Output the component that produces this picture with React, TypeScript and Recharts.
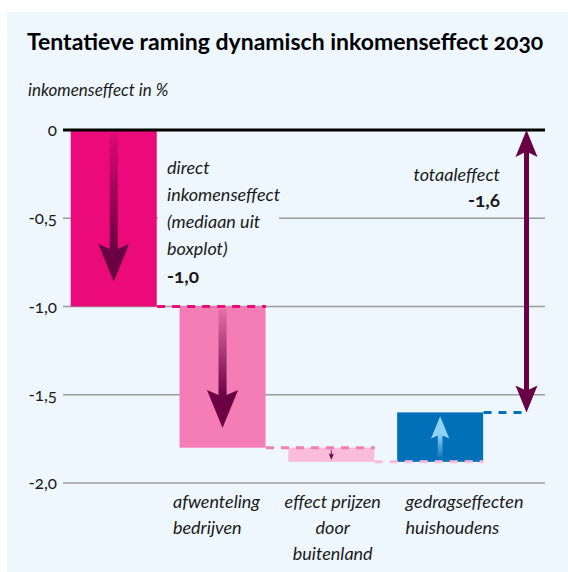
import React from "react";
import { BarChart, Bar, XAxis, YAxis, CartesianGrid, ReferenceLine } from "recharts";

// Waterfall: each step starts where the previous one ended
const CATEGORIES = [
    "direct inkomenseffect",
    "afwenteling bedrijven",
    "effect prijzen door buitenland",
    "gedragseffecten huishoudens",
];
const EFFECTS = [-1.0, -0.8, -0.08, 0.28];
const TOTAL = -1.6;
const X_LABELS: string[][] = [
    [],
    ["afwenteling", "bedrijven"],
    ["effect prijzen", "door", "buitenland"],
    ["gedragseffecten", "huishoudens"],
];
const Y_TICKS = [0, -0.5, -1.0, -1.5, -2.0];

const BAR_COLORS = ["#ec0a7b", "#f57db5", "#fabcdb", "#0070b9"];
const ARROW_COLORS = ["#6a0043", "#6a0043", "#6a0043", "#8fd1f7"];
const TOTAL_COLOR = "#6a0043";
const BG = "#edf7fd";
const FONT = "Lato, 'Noto Sans', sans-serif";

const TOTAL_X = 4.29;
const HALF_BAR = 0.395;

let running = 0;
const chartData = EFFECTS.map((effect, i) => {
    const start = running;
    running = Math.round((running + effect) * 1000) / 1000;
    return {
        pos: i + 0.5,
        name: CATEGORIES[i],
        effect,
        start,
        end: running,
        range: [Math.min(start, running), Math.max(start, running)],
    };
});

function fmt(v: number): string {
    if (v === 0) return "0";
    return v.toFixed(1).replace(".", ",");
}

function WaterfallBar(props: any) {
    const { x, y, width, height, index, payload } = props;
    const top = Math.min(y, y + height);
    const h = Math.abs(height);
    const cx = x + width / 2;
    const down = payload.effect < 0;
    const headH = Math.min(38, h * 0.45);
    const headW = headH * 0.82;
    const shaftW = Math.max(1, headW * 0.26);
    const tip = down ? top + h * 0.86 : top + h * 0.08;
    const tail = down ? top + h * 0.02 : top + h * 0.9;
    const back = down ? tip - headH : tip + headH;
    const notch = down ? back + headH * 0.18 : back - headH * 0.18;
    const gid = `arrowGrad-${index}`;
    const color = ARROW_COLORS[index];
    return (
        <g>
            <defs>
                <linearGradient id={gid} x1="0" y1={down ? "0" : "1"} x2="0" y2={down ? "1" : "0"}>
                    <stop offset="0%" stopColor={color} stopOpacity={0.12} />
                    <stop offset="100%" stopColor={color} stopOpacity={1} />
                </linearGradient>
            </defs>
            <rect x={x} y={top} width={width} height={h} fill={BAR_COLORS[index]} />
            <rect
                x={cx - shaftW / 2}
                y={Math.min(tail, notch)}
                width={shaftW}
                height={Math.abs(notch - tail)}
                fill={`url(#${gid})`}
            />
            <polygon
                points={`${cx},${tip} ${cx + headW / 2},${back} ${cx},${notch} ${cx - headW / 2},${back}`}
                fill={color}
            />
        </g>
    );
}

function TotalArrow(props: any) {
    const { x1, y1, y2 } = props;
    const headH = 27;
    const headW = 22;
    const top = Math.min(y1, y2);
    const bottom = Math.max(y1, y2);
    return (
        <g>
            <rect x={x1 - 2.5} y={top + headH * 0.7} width={5} height={bottom - top - headH * 1.4} fill={TOTAL_COLOR} />
            <polygon
                points={`${x1},${top} ${x1 + headW / 2},${top + headH} ${x1},${top + headH * 0.8} ${x1 - headW / 2},${top + headH}`}
                fill={TOTAL_COLOR}
            />
            <polygon
                points={`${x1},${bottom} ${x1 + headW / 2},${bottom - headH} ${x1},${bottom - headH * 0.8} ${x1 - headW / 2},${bottom - headH}`}
                fill={TOTAL_COLOR}
            />
        </g>
    );
}

const LABEL_ALIGN: Record<number, { anchor: "start" | "middle"; dx: number }> = {
    1: { anchor: "start", dx: -50 },
    2: { anchor: "middle", dx: 1 },
    3: { anchor: "start", dx: -35 },
};

function XTick(props: any) {
    const { x, y, payload } = props;
    const i = Math.round(payload.value - 0.5);
    const lines = X_LABELS[i] ?? [];
    const align = LABEL_ALIGN[i] ?? { anchor: "middle", dx: 0 };
    return (
        <g>
            {lines.map((line, k) => (
                <text
                    key={k}
                    x={x + align.dx}
                    y={y + 25 + k * 26}
                    textAnchor={align.anchor}
                    fontFamily={FONT}
                    fontStyle="italic"
                    fontSize={18}
                    fill="#1a1a1a"
                >
                    {line}
                </text>
            ))}
        </g>
    );
}

export default function App() {
    const connectors = chartData.map((d, i) => {
        const from = d.pos + HALF_BAR;
        const to = i < chartData.length - 1 ? chartData[i + 1].pos + HALF_BAR : TOTAL_X;
        return { from, to, y: d.end, color: BAR_COLORS[i] };
    });

    return (
        <div style={{ position: "absolute", left: 0, top: 0, width: 568, height: 572, fontFamily: FONT }}>
            <div style={{ position: "absolute", left: 7, top: 12, width: 561, height: 560, background: BG }} />
            <div
                style={{
                    position: "absolute",
                    left: 27,
                    top: 29,
                    fontSize: 23,
                    fontWeight: 700,
                    lineHeight: "24px",
                    color: "#000",
                    whiteSpace: "nowrap",
                    fontVariantNumeric: "oldstyle-nums",
                }}
            >
                Tentatieve raming dynamisch inkomenseffect 2030
            </div>
            <div
                style={{
                    position: "absolute",
                    left: 28,
                    top: 79,
                    fontSize: 17,
                    fontStyle: "italic",
                    lineHeight: "22px",
                    color: "#1a1a1a",
                    whiteSpace: "nowrap",
                }}
            >
                inkomenseffect in %
            </div>
            <div style={{ position: "absolute", left: 0, top: 0 }}>
                <BarChart
                    width={568}
                    height={572}
                    data={chartData}
                    margin={{ top: 130, right: 23, bottom: 9, left: 0 }}
                >
                    <CartesianGrid vertical={false} stroke="#9c9c9c" strokeWidth={1.5} />
                    <XAxis
                        type="number"
                        dataKey="pos"
                        domain={[0.03, 4.46]}
                        ticks={[0.5, 1.5, 2.5, 3.5]}
                        interval={0}
                        allowDataOverflow
                        tick={<XTick />}
                        tickLine={false}
                        axisLine={false}
                        tickSize={0}
                        tickMargin={0}
                        height={80}
                    />
                    <YAxis
                        domain={[-2, 0]}
                        ticks={Y_TICKS}
                        tickFormatter={fmt}
                        tickLine={false}
                        axisLine={false}
                        tickSize={4}
                        tickMargin={2}
                        width={63}
                        tick={{ fontSize: 17, fill: "#1a1a1a", fontFamily: FONT, style: { fontVariantNumeric: "oldstyle-nums" } }}
                    />
                    <Bar dataKey="range" barSize={86} shape={<WaterfallBar />} isAnimationActive={false} />
                    {connectors.map((c, i) => (
                        <ReferenceLine
                            key={i}
                            segment={[
                                { x: c.from, y: c.y },
                                { x: c.to, y: c.y },
                            ]}
                            stroke={c.color}
                            strokeWidth={3}
                            strokeDasharray="8 7"
                        />
                    ))}
                    <ReferenceLine y={0} stroke="#000" strokeWidth={3} />
                    <ReferenceLine
                        segment={[
                            { x: TOTAL_X, y: 0 },
                            { x: TOTAL_X, y: TOTAL },
                        ]}
                        shape={<TotalArrow />}
                    />
                </BarChart>
            </div>
            <div
                style={{
                    position: "absolute",
                    left: 158,
                    top: 154,
                    width: 112,
                    paddingLeft: 9,
                    height: 134,
                    background: BG,
                    fontSize: 18,
                    lineHeight: "27px",
                    color: "#1a1a1a",
                }}
            >
                <div style={{ fontStyle: "italic" }}>direct</div>
                <div style={{ fontStyle: "italic" }}>inkomenseffect</div>
                <div style={{ fontStyle: "italic" }}>(mediaan uit</div>
                <div style={{ fontStyle: "italic" }}>boxplot)</div>
                <div style={{ fontWeight: 700, fontSize: 19, fontVariantNumeric: "oldstyle-nums" }}>
                    {fmt(chartData[0].effect)}
                </div>
            </div>
            <div
                style={{
                    position: "absolute",
                    right: 568 - 500,
                    top: 161,
                    textAlign: "right",
                    fontSize: 18,
                    lineHeight: "26px",
                    color: "#1a1a1a",
                }}
            >
                <div style={{ fontStyle: "italic" }}>totaaleffect</div>
                <div style={{ fontWeight: 700, fontSize: 19, fontVariantNumeric: "oldstyle-nums" }}>{fmt(TOTAL)}</div>
            </div>
        </div>
    );
}
